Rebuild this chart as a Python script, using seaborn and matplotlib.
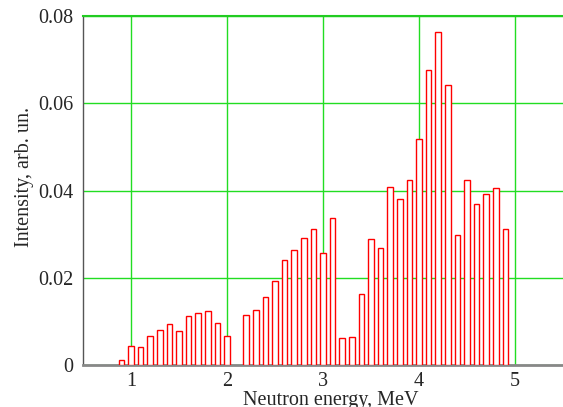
import matplotlib
matplotlib.use("Agg")
import matplotlib.pyplot as plt
import seaborn as sns
import pandas as pd
from matplotlib.ticker import FixedLocator, FuncFormatter

energy = [0.9, 1.0, 1.1, 1.2, 1.3, 1.4, 1.5, 1.6, 1.7, 1.8, 1.9, 2.0,
          2.2, 2.3, 2.4, 2.5, 2.6, 2.7, 2.8, 2.9, 3.0, 3.1, 3.2, 3.3, 3.4,
          3.5, 3.6, 3.7, 3.8, 3.9, 4.0, 4.1, 4.2, 4.3, 4.4, 4.5, 4.6, 4.7,
          4.8, 4.9]
intensity = [0.0011, 0.0044, 0.0042, 0.0067, 0.0080, 0.0093, 0.0078, 0.0112,
             0.0119, 0.0123, 0.0097, 0.0066,
             0.0115, 0.0126, 0.0156, 0.0193, 0.0241, 0.0264, 0.0290, 0.0311,
             0.0256, 0.0337, 0.0061, 0.0064, 0.0163, 0.0288, 0.0268, 0.0409,
             0.0381, 0.0423, 0.0517, 0.0676, 0.0764, 0.0641, 0.0299, 0.0423,
             0.0370, 0.0392, 0.0406, 0.0312]
x_ticks = [1, 2, 3, 4, 5]
y_ticks = [0, 0.02, 0.04, 0.06, 0.08]

df = pd.DataFrame({"energy": energy, "intensity": intensity})

sns.set_style("white")
plt.rcParams["font.family"] = ["Liberation Serif", "DejaVu Serif"]

fig = plt.figure(figsize=(5.63, 4.07), dpi=100)
ax = fig.add_axes([83 / 563, 42 / 407, 480 / 563, 349 / 407])

sns.barplot(data=df, x="energy", y="intensity", native_scale=True, width=0.6,
            color="white", edgecolor="#ff0000", linewidth=1.0, errorbar=None,
            ax=ax, zorder=3)

ax.set_xlim(0.5, 5.5)
ax.set_ylim(0, 0.08)
ax.xaxis.set_major_locator(FixedLocator(x_ticks))
ax.yaxis.set_major_locator(FixedLocator(y_ticks))
ax.xaxis.set_major_formatter(FuncFormatter(lambda v, p: f"{v:g}"))
ax.yaxis.set_major_formatter(FuncFormatter(lambda v, p: "0" if v == 0 else f"{v:.2f}"))
ax.grid(True, color="#22dd22", linewidth=1.0, zorder=0)
ax.set_axisbelow(True)
ax.tick_params(axis="y", length=0, labelsize=14.5, pad=7)
ax.tick_params(axis="x", length=0, labelsize=14.5, pad=5)

ax.spines["right"].set_visible(False)
ax.spines["top"].set_color("#22cc22")
ax.spines["top"].set_linewidth(1.5)
ax.spines["left"].set_color("#555555")
ax.spines["left"].set_linewidth(1.0)
ax.spines["bottom"].set_color("#888888")
ax.spines["bottom"].set_linewidth(2.0)

ax.set_xlabel("Neutron energy, MeV", fontsize=14.5)
ax.set_ylabel("Intensity, arb. un.", fontsize=14.5)
ax.xaxis.set_label_coords(0.517, -0.075)
ax.yaxis.set_label_coords(-0.103, 0.539)

fig.savefig("out.png", dpi=100)
